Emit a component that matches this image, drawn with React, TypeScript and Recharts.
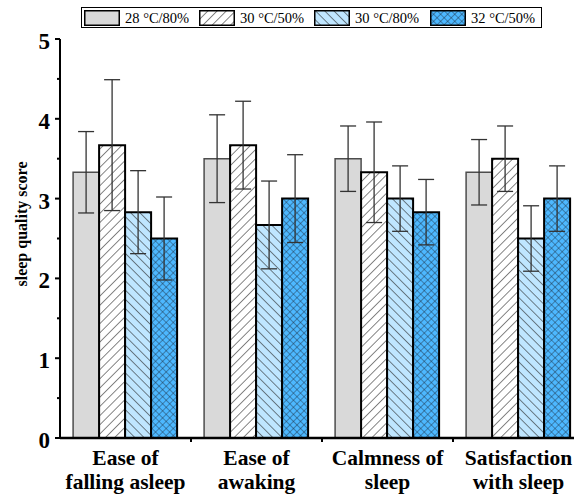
import React from 'react';
import { BarChart, Bar, XAxis, YAxis, ErrorBar } from 'recharts';

const categories = [
  ['Ease of', 'falling asleep'],
  ['Ease of', 'awaking'],
  ['Calmness of', 'sleep'],
  ['Satisfaction', 'with sleep'],
];
const seriesNames = ['28 °C/80%', '30 °C/50%', '30 °C/80%', '32 °C/50%'];
const s28_80 = [3.33, 3.5, 3.5, 3.33];
const s30_50 = [3.67, 3.67, 3.33, 3.5];
const s30_80 = [2.83, 2.67, 3.0, 2.5];
const s32_50 = [2.5, 3.0, 2.83, 3.0];
const e28_80 = [0.51, 0.55, 0.41, 0.41];
const e30_50 = [0.82, 0.55, 0.63, 0.41];
const e30_80 = [0.52, 0.55, 0.41, 0.41];
const e32_50 = [0.52, 0.55, 0.41, 0.41];
const yTicks = [0, 0.5, 1, 1.5, 2, 2.5, 3, 3.5, 4, 4.5, 5];

const data = categories.map((c, i) => ({
  name: c.join(' '),
  a: s28_80[i],
  b: s30_50[i],
  c: s30_80[i],
  d: s32_50[i],
  ea: e28_80[i],
  eb: e30_50[i],
  ec: e30_80[i],
  ed: e32_50[i],
}));

const FONT = '"Liberation Serif", "Times New Roman", serif';
const AXIS_X = 60;
const HALF_BAND = (584 - 60) / 4 / 2;

const fills = ['#d9d9d9', 'url(#hatchFwd)', 'url(#hatchBack)', 'url(#cross)'];
const strokes = ['#4d4d4d', '#000', '#000', '#000'];

const YTick = (props: any) => {
  const { y, payload } = props;
  const v = payload.value;
  const major = Math.abs(v - Math.round(v)) < 1e-6;
  return (
    <g>
      <line x1={AXIS_X} x2={AXIS_X - (major ? 5 : 3)} y1={y} y2={y} stroke="#000" strokeWidth={2} />
      {major && (
        <text x={50} y={y + 10} textAnchor="end" fontFamily={FONT} fontWeight="bold" fontSize={23} fill="#000">
          {v}
        </text>
      )}
    </g>
  );
};

const XTick = (props: any) => {
  const { x, payload } = props;
  const idx = payload.index ?? 0;
  const lines = categories[idx] || ['', ''];
  return (
    <g>
      {idx > 0 && (
        <line x1={x - HALF_BAND} x2={x - HALF_BAND} y1={438} y2={442} stroke="#000" strokeWidth={2} />
      )}
      <text textAnchor="middle" fontFamily={FONT} fontWeight="bold" fontSize={21.5} fill="#000">
        <tspan x={x} y={465}>{lines[0]}</tspan>
        <tspan x={x} y={489}>{lines[1]}</tspan>
      </text>
    </g>
  );
};

const Swatch = ({ i }: { i: number }) => (
  <svg width={36} height={16} style={{ display: 'block' }}>
    <rect x={0.75} y={0.75} width={34.5} height={14.5} fill={fills[i]} stroke="#000" strokeWidth={1.5} />
  </svg>
);

export default function App() {
  const keys = ['a', 'b', 'c', 'd'];
  const ekeys = ['ea', 'eb', 'ec', 'ed'];
  const offsets = [2, 117, 232, 348];
  return (
    <div style={{ position: 'absolute', left: 0, top: 0, width: 574, height: 497, overflow: 'hidden', background: '#fff' }}>
      <svg width={0} height={0} style={{ position: 'absolute' }}>
        <defs>
          <pattern id="hatchFwd" patternUnits="userSpaceOnUse" width={6.5} height={6.5} patternTransform="rotate(45)">
            <rect width={6.5} height={6.5} fill="#fff" />
            <line x1={0} y1={0} x2={0} y2={6.5} stroke="#222" strokeWidth={1.1} />
          </pattern>
          <pattern id="hatchBack" patternUnits="userSpaceOnUse" width={6.5} height={6.5} patternTransform="rotate(-45)">
            <rect width={6.5} height={6.5} fill="#bfe6ff" />
            <line x1={0} y1={0} x2={0} y2={6.5} stroke="#222" strokeWidth={1.1} />
          </pattern>
          <pattern id="cross" patternUnits="userSpaceOnUse" width={5} height={5} patternTransform="rotate(45)">
            <rect width={5} height={5} fill="#4db8ff" />
            <line x1={0} y1={0} x2={0} y2={5} stroke="#1b2a3a" strokeWidth={0.85} />
            <line x1={0} y1={0} x2={5} y2={0} stroke="#1b2a3a" strokeWidth={0.85} />
          </pattern>
        </defs>
      </svg>

      <BarChart
        width={584}
        height={497}
        data={data}
        margin={{ top: 39, right: 0, bottom: 0, left: 0 }}
        barCategoryGap="10%"
        barGap={0}
      >
        <XAxis
          dataKey="name"
          height={59}
          axisLine={{ stroke: '#000', strokeWidth: 2.5 }}
          tickLine={false}
          tick={<XTick />}
          interval={0}
        />
        <YAxis
          width={60}
          domain={[0, 5]}
          ticks={yTicks}
          interval={0}
          axisLine={{ stroke: '#000', strokeWidth: 2 }}
          tickLine={false}
          tick={<YTick />}
        />
        {keys.map((k, i) => (
          <Bar key={k} dataKey={k} fill={fills[i]} stroke={strokes[i]} strokeWidth={i === 0 ? 1.5 : 2} isAnimationActive={false}>
            <ErrorBar dataKey={ekeys[i]} width={8} stroke="#333" strokeWidth={1.3} direction="y" />
          </Bar>
        ))}
      </BarChart>

      <div
        style={{
          position: 'absolute',
          left: 81,
          top: 7,
          width: 459,
          height: 19,
          border: '1px solid #000',
          boxSizing: 'content-box',
          fontFamily: FONT,
          fontSize: 14.5,
          color: '#000',
        }}
      >
        {seriesNames.map((n, i) => (
          <div key={n} style={{ position: 'absolute', left: offsets[i], top: 2, display: 'flex', alignItems: 'center', whiteSpace: 'nowrap' }}>
            <Swatch i={i} />
            <span style={{ marginLeft: 5, lineHeight: '16px' }}>{n}</span>
          </div>
        ))}
      </div>

      <div
        style={{
          position: 'absolute',
          left: 22,
          top: 224,
          transform: 'translate(-50%, -50%) rotate(-90deg)',
          fontFamily: FONT,
          fontWeight: 'bold',
          fontSize: 16,
          whiteSpace: 'nowrap',
          color: '#000',
        }}
      >
        sleep quality score
      </div>
    </div>
  );
}
